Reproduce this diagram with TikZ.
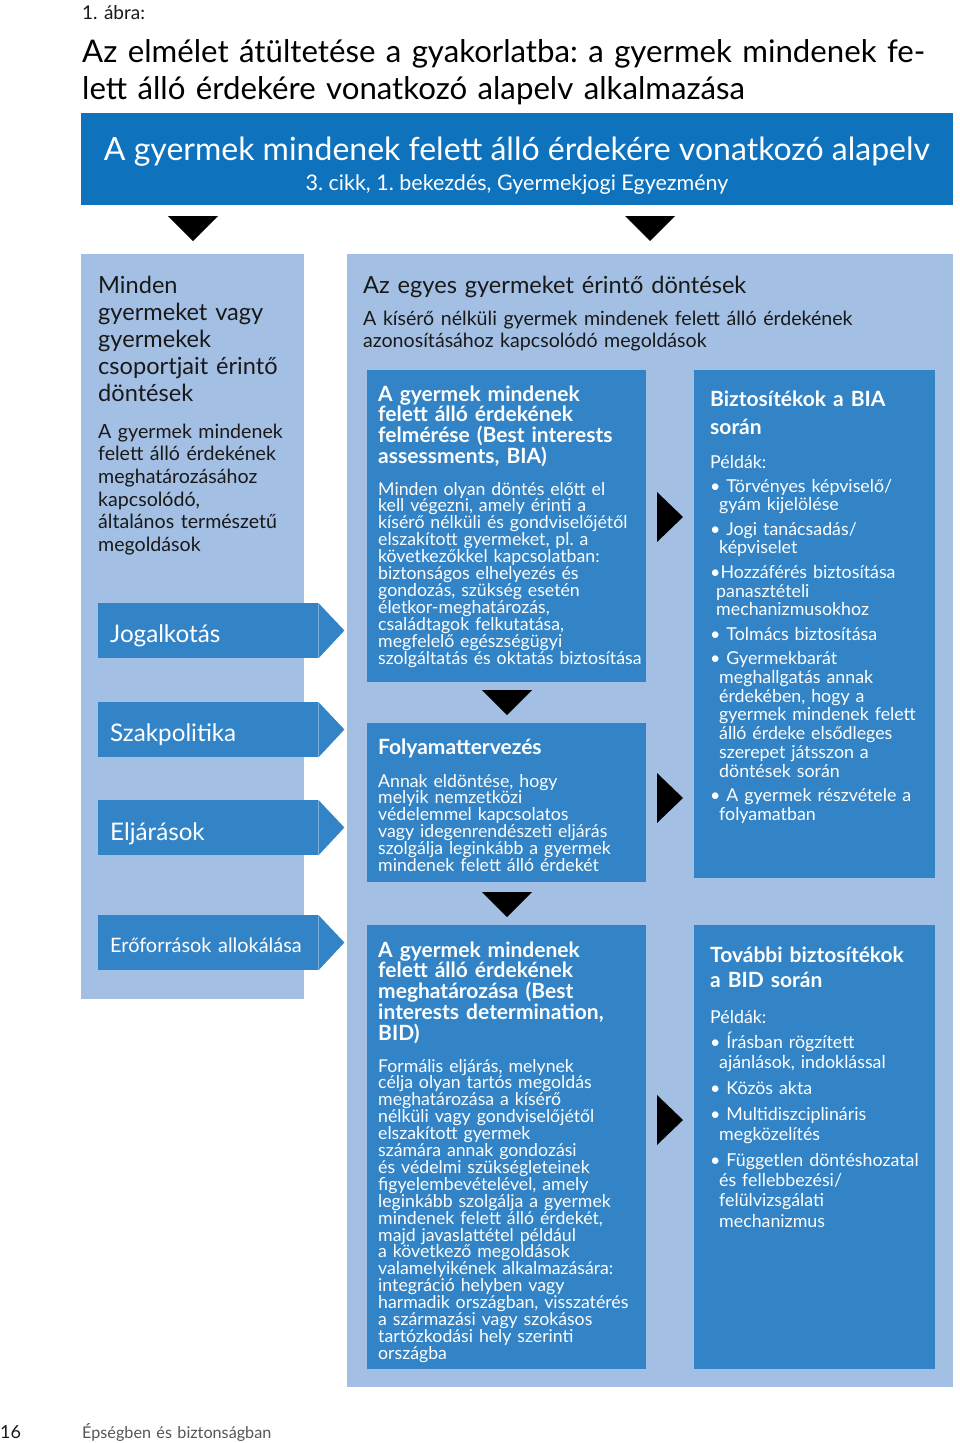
\documentclass[tikz,border=0pt]{standalone}
\usepackage{fontspec}
\setmainfont{Lato}
\frenchspacing
\definecolor{bannerblue}{RGB}{14,114,189}
\definecolor{boxblue}{RGB}{50,132,199}
\definecolor{panelblue}{RGB}{163,192,228}
\definecolor{inkdark}{RGB}{25,25,25}
\definecolor{footgrey}{RGB}{85,85,85}
\tikzset{
    panelbox/.style={fill=panelblue, anchor=north west, inner sep=0pt},
    bluebox/.style={fill=boxblue, anchor=north west, inner sep=0pt},
    tagbox/.style={fill=boxblue, anchor=north west, inner sep=0pt,
        minimum width=220pt, minimum height=55pt},
    plaintext/.style={anchor=base west, inner sep=0pt, align=left, text width=600pt},
    headtext/.style={plaintext, text=white, font=\bfseries\fontsize{21}{20.8}\selectfont},
    bodytext/.style={plaintext, text=white, font=\fontsize{17.7}{16.9}\selectfont},
    listtext/.style={plaintext, text=white, font=\fontsize{17.8}{18.7}\selectfont},
    darkhead/.style={plaintext, text=inkdark, font=\fontsize{23.6}{27}\selectfont},
    darkbody/.style={plaintext, text=inkdark, font=\fontsize{19.6}{22.7}\selectfont},
    tagtext/.style={plaintext, text=white, font=\fontsize{24.2}{26}\selectfont},
    marker/.style={fill=black}
}

\begin{document}
\begin{tikzpicture}[x=1pt, y=-1pt]
\useasboundingbox (0,0) rectangle (960,1443);

% heading
\node[plaintext, text=inkdark, font=\fontsize{19}{20}\selectfont] (fignum) at (82,19) {1. ábra:};
\node[plaintext, text width=870pt, text=black, font=\fontsize{31.2}{37}\selectfont] (figtitle) at (82,62)
    {Az elmélet átültetése a gyakorlatba: a gyermek mindenek fe-\\lett álló érdekére vonatkozó alapelv alkalmazása};

% banner
\node[fill=bannerblue, anchor=north west, inner sep=0pt, minimum width=872pt, minimum height=92pt] (banner) at (81,113) {};
\node[anchor=base, inner sep=0pt, text=white, font=\fontsize{32}{32}\selectfont] (bannerhead) at (517,160)
    {A gyermek mindenek felett álló érdekére vonatkozó alapelv};
\node[anchor=base, inner sep=0pt, text=white, font=\fontsize{21.5}{21.5}\selectfont] (bannersub) at (517,190)
    {3. cikk, 1. bekezdés, Gyermekjogi Egyezmény};

% panels
\node[panelbox, minimum width=223pt, minimum height=745pt] (general) at (81,254) {};
\node[panelbox, minimum width=606pt, minimum height=1133pt] (single) at (347,254) {};

% left panel
\node[darkhead] (generalhead) at (98,293)
    {Minden\\gyermeket vagy\\gyermekek\\csoportjait érintő\\döntések};
\node[darkbody] (generalbody) at (98,438)
    {A gyermek mindenek\\felett álló érdekének\\meghatározásához\\kapcsolódó,\\általános természetű\\megoldások};

\node[tagbox] (jog) at (98,603) {};
\node[tagbox] (szak) at (98,702) {};
\node[tagbox] (elj) at (98,800) {};
\node[tagbox] (ero) at (98,915) {};
\foreach \t in {jog,szak,elj,ero}
    \fill[boxblue] (\t.north east) -- ++(26,27.5) -- (\t.south east) -- cycle;
\node[tagtext] (jogtxt) at (110,642) {Jogalkotás};
\node[tagtext] (szaktxt) at (110,741) {Szakpolitika};
\node[tagtext] (eljtxt) at (110,840) {Eljárások};
\node[tagtext, font=\fontsize{19.9}{20}\selectfont] (erotxt) at (110,952) {Erőforrások allokálása};

% right panel
\node[darkhead] (singlehead) at (363,293) {Az egyes gyermeket érintő döntések};
\node[darkbody] (singlebody) at (363,325)
    {A kísérő nélküli gyermek mindenek felett álló érdekének\\azonosításához kapcsolódó megoldások};

\node[bluebox, minimum width=279pt, minimum height=312pt] (bia) at (367,370) {};
\node[bluebox, minimum width=279pt, minimum height=159pt] (plan) at (367,723) {};
\node[bluebox, minimum width=279pt, minimum height=444pt] (bid) at (367,925) {};
\node[bluebox, minimum width=241pt, minimum height=508pt] (safebia) at (694,370) {};
\node[bluebox, minimum width=241pt, minimum height=444pt] (safebid) at (694,925) {};

\node[headtext] (biahead) at (378,401)
    {A gyermek mindenek\\felett álló érdekének\\felmérése (Best interests\\assessments, BIA)};
\node[bodytext] (biabody) at (378,495)
    {Minden olyan döntés előtt el\\kell végezni, amely érinti a\\kísérő nélküli és gondviselőjétől\\elszakított gyermeket, pl. a\\következőkkel kapcsolatban:\\biztonságos elhelyezés és\\gondozás, szükség esetén\\életkor-meghatározás,\\családtagok felkutatása,\\megfelelő egészségügyi\\szolgáltatás és oktatás biztosítása};

\node[headtext] (planhead) at (378,754) {Folyamattervezés};
\node[bodytext] (planbody) at (378,787)
    {Annak eldöntése, hogy\\melyik nemzetközi\\védelemmel kapcsolatos\\vagy idegenrendészeti eljárás\\szolgálja leginkább a gyermek\\mindenek felett álló érdekét};

\node[headtext] (bidhead) at (378,957)
    {A gyermek mindenek\\felett álló érdekének\\meghatározása (Best\\interests determination,\\BID)};
\node[bodytext] (bidbody) at (378,1072)
    {Formális eljárás, melynek\\célja olyan tartós megoldás\\meghatározása a kísérő\\nélküli vagy gondviselőjétől\\elszakított gyermek\\számára annak gondozási\\és védelmi szükségleteinek\\figyelembevételével, amely\\leginkább szolgálja a gyermek\\mindenek felett álló érdekét,\\majd javaslattétel például\\a következő megoldások\\valamelyikének alkalmazására:\\integráció helyben vagy\\harmadik országban, visszatérés\\a származási vagy szokásos\\tartózkodási hely szerinti\\országba};

\node[headtext, font=\bfseries\fontsize{21}{28}\selectfont] (safebiahead) at (710,406) {Biztosítékok a BIA\\során};
\node[listtext] (safebiaex) at (710,468) {Példák:};
\node[listtext] (safebialist) at (710,492)
    {\textbullet\ Törvényes képviselő/\\\hspace*{9pt}gyám kijelölése\\[5.8pt]
     \textbullet\ Jogi tanácsadás/\\\hspace*{9pt}képviselet\\[5.8pt]
     \textbullet Hozzáférés biztosítása\\\hspace*{6pt}panasztételi\\\hspace*{6pt}mechanizmusokhoz\\[5.8pt]
     \textbullet\ Tolmács biztosítása\\[5.8pt]
     \textbullet\ Gyermekbarát\\\hspace*{9pt}meghallgatás annak\\\hspace*{9pt}érdekében, hogy a\\\hspace*{9pt}gyermek mindenek felett\\\hspace*{9pt}álló érdeke elsődleges\\\hspace*{9pt}szerepet játsszon a\\\hspace*{9pt}döntések során\\[5.8pt]
     \textbullet\ A gyermek részvétele a\\\hspace*{9pt}folyamatban};

\node[headtext, font=\bfseries\fontsize{21}{25}\selectfont] (safebidhead) at (710,962) {További biztosítékok\\a BID során};
\node[listtext] (safebidex) at (710,1023) {Példák:};
\node[listtext, font=\fontsize{17.8}{20.2}\selectfont] (safebidlist) at (710,1048)
    {\textbullet\ Írásban rögzített\\\hspace*{9pt}ajánlások, indoklással\\[5.8pt]
     \textbullet\ Közös akta\\[5.8pt]
     \textbullet\ Multidiszciplináris\\\hspace*{9pt}megközelítés\\[5.8pt]
     \textbullet\ Független döntéshozatal\\\hspace*{9pt}és fellebbezési/\\\hspace*{9pt}felülvizsgálati\\\hspace*{9pt}mechanizmus};

% markers
\foreach \x/\y in {193/216,650/216,507/690,507/892}
    \fill[marker] ({\x-25},\y) -- ({\x+25},\y) -- (\x,{\y+25}) -- cycle;
\foreach \y in {517,798,1120}
    \fill[marker] (657,{\y-25}) -- (683,\y) -- (657,{\y+25}) -- cycle;

% footer
\node[plaintext, text=inkdark, font=\fontsize{18}{20}\selectfont] (pagenum) at (0,1438) {16};
\node[plaintext, text=footgrey, font=\fontsize{16.2}{18}\selectfont] (runhead) at (82,1438) {Épségben és biztonságban};
\end{tikzpicture}
\end{document}
